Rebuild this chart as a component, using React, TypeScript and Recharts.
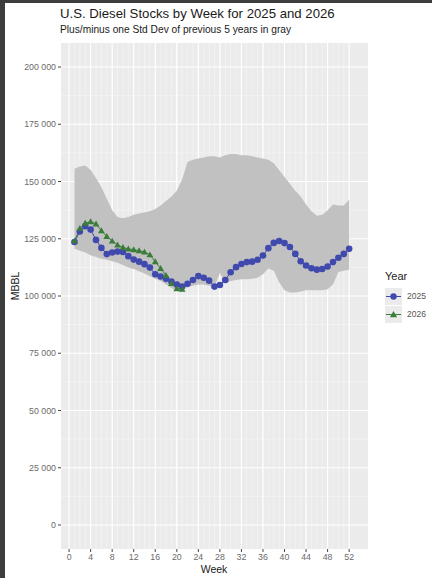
import React from "react";
import {
  ComposedChart, Area, Line, XAxis, YAxis, CartesianGrid,
} from "recharts";

// weeks of the year (x categories)
const weeks = [
  1, 2, 3, 4, 5, 6, 7, 8, 9, 10, 11, 12, 13, 14, 15, 16, 17, 18, 19, 20, 21, 22, 23, 24, 25, 26,
  27, 28, 29, 30, 31, 32, 33, 34, 35, 36, 37, 38, 39, 40, 41, 42, 43, 44, 45, 46, 47, 48, 49, 50, 51, 52,
];

// diesel stocks, MBBL
const stocks2025 = [
  123600, 128200, 130500, 129000, 124500, 121000, 118300, 119000, 119400, 119200, 117400, 115900, 115000,
  113900, 112400, 109500, 108500, 107500, 106300, 105000, 104100, 105300, 107000, 108700, 108000, 106700,
  104100, 104800, 107000, 110400, 112600, 114000, 114800, 115000, 115800, 117700, 120900, 123200, 124000,
  123100, 121400, 118400, 115200, 113300, 112100, 111500, 111800, 112900, 114800, 116700, 118400, 120600,
];

const stocks2026 = [
  124000, 129500, 131800, 132500, 131500, 128500, 126000, 124000, 122300, 121200, 120600, 120200, 119800,
  119200, 118000, 115000, 112000, 109000, 105500, 103200, 103000,
];

// +/- one std dev of previous 5 years
const bandUpper = [
  155600, 156600, 157000, 155000, 151500, 147500, 142500, 137500, 134500, 134000, 134500, 135500, 136000,
  136500, 137000, 138000, 139500, 141500, 143500, 146000, 151000, 158500, 159500, 160000, 160500, 161000,
  161000, 160500, 161500, 162000, 162000, 161500, 161500, 161000, 160500, 160000, 159500, 158000, 155000,
  152000, 149000, 146000, 143500, 140000, 137000, 135000, 135500, 137500, 140000, 139500, 139500, 142000,
];

const bandLower = [
  120600, 119800, 119000, 117800, 117000, 116300, 115800, 115200, 114500, 113500, 112500, 111800, 110800,
  109800, 108600, 107500, 106500, 105000, 103500, 102200, 102500, 104000, 104500, 105000, 105000, 104500,
  104000, 110000, 105500, 106500, 107000, 107300, 107300, 107500, 108000, 109500, 112000, 111000, 106000,
  102500, 101500, 101500, 102000, 102500, 102500, 102500, 102500, 103000, 105000, 110500, 111000, 111500,
];

const xTicks = [0, 4, 8, 12, 16, 20, 24, 28, 32, 36, 40, 44, 48, 52];
const yTicks = [0, 25000, 50000, 75000, 100000, 125000, 150000, 175000, 200000];
const yMinor = [12500, 37500, 62500, 87500, 112500, 137500, 162500, 187500];

const data = weeks.map((w, i) => ({
  week: w,
  y2025: stocks2025[i],
  y2026: i < stocks2026.length ? stocks2026[i] : null,
  band: [bandLower[i], bandUpper[i]],
}));

const BLUE = "#4049ad";
const GREEN = "#3a7d3a";
const FONT = "'Liberation Sans', Arial, sans-serif";

const series = [
  { key: "y2025", label: "2025", color: BLUE },
  { key: "y2026", label: "2026", color: GREEN },
];

const fmt = (v: number) => String(v).replace(/\B(?=(\d{3})+(?!\d))/g, " ");

const Triangle = (props: any) => {
  const { cx, cy, key } = props;
  if (cx == null || cy == null || Number.isNaN(cy)) return <g key={key} />;
  const s = 3.4;
  return (
    <path
      key={key}
      d={`M${cx},${cy - s} L${cx + s},${cy + s * 0.75} L${cx - s},${cy + s * 0.75} Z`}
      fill={GREEN}
    />
  );
};

const LegendBox = () => (
  <div style={{ position: "absolute", left: 385, top: 270, fontFamily: FONT }}>
    <div style={{ fontSize: 11, color: "#222", marginBottom: 5 }}>Year</div>
    {series.map((p) => (
      <div key={p.key} style={{ display: "flex", alignItems: "center", height: 18 }}>
        <svg width={17} height={17} style={{ background: "#ebebeb" }}>
          <line x1={1} x2={16} y1={8.5} y2={8.5} stroke={p.color} strokeWidth={1} />
          {p.key === "y2026" ? (
            <path d="M8.5,5 L12.1,11.2 L4.9,11.2 Z" fill={p.color} />
          ) : (
            <circle cx={8.5} cy={8.5} r={3.2} fill={p.color} />
          )}
        </svg>
        <span style={{ fontSize: 8.5, color: "#555", marginLeft: 5 }}>{p.label}</span>
      </div>
    ))}
  </div>
);

export default function App() {
  return (
    <div style={{ position: "absolute", left: 0, top: 0, width: 432, height: 578, background: "#3d3d3d" }}>
      <div style={{ position: "absolute", left: 5, top: 3, width: 427, height: 575, background: "#fff" }} />
      <div style={{ position: "absolute", left: 60, top: 6, fontFamily: FONT, fontSize: 13.2, color: "#1a1a1a", whiteSpace: "nowrap" }}>
        U.S. Diesel Stocks by Week for 2025 and 2026
      </div>
      <div style={{ position: "absolute", left: 60, top: 24, fontFamily: FONT, fontSize: 10.2, color: "#1a1a1a", whiteSpace: "nowrap" }}>
        Plus/minus one Std Dev of previous 5 years in gray
      </div>
      <div
        style={{
          position: "absolute", left: 15, top: 286, transform: "translate(-50%, -50%) rotate(-90deg)",
          fontFamily: FONT, fontSize: 10.5, color: "#1a1a1a",
        }}
      >
        MBBL
      </div>
      <div
        style={{
          position: "absolute", left: 214, top: 569, transform: "translate(-50%, -50%)",
          fontFamily: FONT, fontSize: 10.5, color: "#1a1a1a",
        }}
      >
        Week
      </div>
      <div style={{ position: "absolute", left: 0, top: 0 }}>
        <ComposedChart width={432} height={578} data={data} margin={{ top: 43, right: 64, bottom: 9, left: 0 }}>
          <CartesianGrid
            fill="#ebebeb"
            stroke="#f7f7f7"
            strokeWidth={0.6}
            verticalValues={weeks}
            horizontalValues={yMinor}
          />
          <CartesianGrid
            stroke="#ffffff"
            strokeWidth={1.1}
            verticalValues={xTicks}
            horizontalValues={yTicks}
          />
          <XAxis
            dataKey="week"
            type="number"
            domain={[-1.5, 55.5]}
            ticks={xTicks}
            allowDataOverflow
            height={20}
            axisLine={false}
            tickLine={{ stroke: "#444" }}
            tickSize={3}
            tickMargin={2}
            tick={{ fill: "#6b6b6b", fontSize: 8.8, fontFamily: FONT }}
            interval={0}
          />
          <YAxis
            type="number"
            domain={[-10500, 210500]}
            ticks={yTicks}
            allowDataOverflow
            width={61}
            axisLine={false}
            tickLine={{ stroke: "#444" }}
            tickSize={3}
            tickMargin={2}
            tickFormatter={fmt}
            tick={{ fill: "#6b6b6b", fontSize: 8.8, fontFamily: FONT }}
            interval={0}
          />
          <Area
            dataKey="band"
            fill="#c1c1c1"
            fillOpacity={1}
            stroke="none"
            type="linear"
            legendType="none"
            isAnimationActive={false}
          />
          <Line
            dataKey="y2025"
            name="2025"
            stroke={BLUE}
            strokeWidth={1}
            type="linear"
            dot={{ r: 3.3, fill: BLUE, stroke: "none" }}
            activeDot={false}
            isAnimationActive={false}
          />
          <Line
            dataKey="y2026"
            name="2026"
            stroke={GREEN}
            strokeWidth={1}
            type="linear"
            dot={Triangle}
            activeDot={false}
            isAnimationActive={false}
          />
        </ComposedChart>
      </div>
      <LegendBox />
    </div>
  );
}
